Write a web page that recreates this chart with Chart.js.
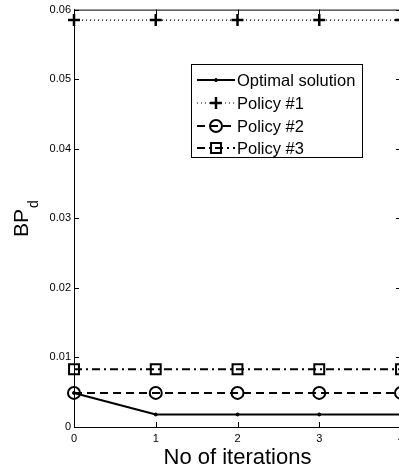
<!DOCTYPE html>
<html>
<head>
<meta charset="utf-8">
<script src="https://cdn.jsdelivr.net/npm/chart.js@4.4.1/dist/chart.umd.min.js"></script>
<style>
  html, body { margin: 0; padding: 0; background: #fff; overflow: hidden; }
  #wrap { width: 410px; height: 471px; }
</style>
</head>
<body>
<div id="wrap"><canvas id="canvas_bp"></canvas></div>
<script>
const iterations = [0, 1, 2, 3, 4];
const optimalSolution = [0.0049, 0.0018, 0.0018, 0.0018, 0.0018];
const policy1 = [0.0585, 0.0585, 0.0585, 0.0585, 0.0585];
const policy2 = [0.0049, 0.0049, 0.0049, 0.0049, 0.0049];
const policy3 = [0.0083, 0.0083, 0.0083, 0.0083, 0.0083];
const seriesLabels = ['Optimal solution', 'Policy #1', 'Policy #2', 'Policy #3'];

const FONT = '"Liberation Sans", Arial, Helvetica, sans-serif';

const toPoints = values => values.map((v, i) => ({ x: iterations[i], y: v }));

const styles = [
    { dash: [], width: 2, point: 'circle', radius: 1.5, pointWidth: 1, fill: '#000' },
    { dash: [1, 3], width: 1.2, point: 'cross', radius: 6, pointWidth: 2.5, fill: 'rgba(0,0,0,0)' },
    { dash: [8, 5], width: 2, point: 'circle', radius: 6, pointWidth: 2, fill: 'rgba(0,0,0,0)' },
    { dash: [8, 4, 2, 4], width: 1.8, point: 'rect', radius: 7, pointWidth: 2, fill: 'rgba(0,0,0,0)' }
];

const datasets = [optimalSolution, policy1, policy2, policy3].map((values, i) => ({
    label: seriesLabels[i],
    data: toPoints(values),
    borderColor: '#000',
    borderWidth: styles[i].width,
    borderDash: styles[i].dash,
    pointStyle: styles[i].point,
    pointRadius: styles[i].radius,
    pointBorderWidth: styles[i].pointWidth,
    pointBorderColor: '#000',
    pointBackgroundColor: styles[i].fill,
    tension: 0,
    fill: false,
    clip: false
}));

// box, inward ticks, axis titles and the boxed legend, MATLAB style
const matlabFrame = {
    id: 'matlabFrame',
    afterDraw(chart) {
        const ctx = chart.ctx;
        const a = chart.chartArea;
        const xs = chart.scales.x, ys = chart.scales.y;
        ctx.save();
        ctx.strokeStyle = '#000';
        ctx.lineWidth = 1;
        ctx.setLineDash([]);
        ctx.strokeRect(a.left + 0.5, a.top + 0.5, a.right - a.left, a.bottom - a.top);

        const tl = 5;
        ctx.beginPath();
        ys.ticks.forEach(t => {
            const y = Math.round(ys.getPixelForValue(t.value)) + 0.5;
            ctx.moveTo(a.left, y); ctx.lineTo(a.left + tl, y);
            ctx.moveTo(a.right, y); ctx.lineTo(a.right - tl, y);
        });
        xs.ticks.forEach(t => {
            const x = Math.round(xs.getPixelForValue(t.value)) + 0.5;
            ctx.moveTo(x, a.bottom); ctx.lineTo(x, a.bottom - tl);
            ctx.moveTo(x, a.top); ctx.lineTo(x, a.top + tl);
        });
        ctx.stroke();

        // axis titles
        ctx.fillStyle = '#000';
        ctx.font = '22px ' + FONT;
        ctx.textAlign = 'center';
        ctx.textBaseline = 'alphabetic';
        ctx.fillText('No of iterations', (a.left + a.right) / 2, 464);

        ctx.save();
        ctx.translate(27.5, 237);
        ctx.rotate(-Math.PI / 2);
        ctx.textAlign = 'left';
        ctx.font = '21px ' + FONT;
        ctx.fillText('BP', 0, 0);
        const w = ctx.measureText('BP').width;
        ctx.font = '14px ' + FONT;
        ctx.fillText('d', w + 1, 10);
        ctx.restore();

        // legend
        const lx = 191, ly = 64, lw = 171, lh = 93;
        ctx.fillStyle = '#fff';
        ctx.fillRect(lx, ly, lw, lh);
        ctx.strokeStyle = '#000';
        ctx.lineWidth = 1;
        ctx.strokeRect(lx + 0.5, ly + 0.5, lw, lh);
        const rows = [80, 103, 126, 148];
        chart.data.datasets.forEach((ds, i) => {
            const y = rows[i];
            const st = styles[i];
            ctx.setLineDash(st.dash);
            ctx.lineWidth = st.width;
            ctx.beginPath();
            ctx.moveTo(197, y); ctx.lineTo(235, y);
            ctx.stroke();
            ctx.setLineDash([]);
            ctx.lineWidth = st.pointWidth;
            const cx = 216;
            ctx.beginPath();
            if (st.point === 'cross') {
                ctx.moveTo(cx - st.radius, y); ctx.lineTo(cx + st.radius, y);
                ctx.moveTo(cx, y - st.radius); ctx.lineTo(cx, y + st.radius);
                ctx.stroke();
            } else if (st.point === 'rect') {
                const s = st.radius * Math.SQRT1_2;
                ctx.rect(cx - s, y - s, 2 * s, 2 * s);
                ctx.stroke();
            } else {
                ctx.arc(cx, y, st.radius, 0, Math.PI * 2);
                if (st.fill === '#000') { ctx.fillStyle = '#000'; ctx.fill(); }
                ctx.stroke();
            }
            ctx.fillStyle = '#000';
            ctx.font = '16.5px ' + FONT;
            ctx.textAlign = 'left';
            ctx.textBaseline = 'middle';
            ctx.fillText(ds.label, 237, y + 1);
        });
        ctx.restore();
    }
};

const ctx = document.getElementById('canvas_bp').getContext('2d');
const chart = new Chart(ctx, {
    type: 'line',
    data: { datasets: datasets },
    options: {
        responsive: true,
        maintainAspectRatio: false,
        animation: false,
        layout: { padding: { top: 8, right: 9, left: 0, bottom: 0 } },
        scales: {
            x: {
                type: 'linear',
                min: 0,
                max: 4,
                ticks: {
                    stepSize: 1,
                    padding: 5,
                    color: '#000',
                    font: { family: FONT, size: 11 },
                    maxRotation: 0
                },
                grid: { drawOnChartArea: false, drawTicks: false },
                border: { color: '#000' },
                afterFit: function(scale) { scale.height = 44; }
            },
            y: {
                min: 0,
                max: 0.06,
                ticks: {
                    stepSize: 0.01,
                    padding: 3,
                    color: '#000',
                    font: { family: FONT, size: 11 },
                    callback: function(value) {
                        return parseFloat(value.toFixed(2)).toString();
                    }
                },
                grid: { drawOnChartArea: false, drawTicks: false },
                border: { color: '#000' },
                afterFit: function(scale) { scale.width = 74; }
            }
        },
        plugins: {
            legend: { display: false },
            tooltip: { enabled: false }
        }
    },
    plugins: [matlabFrame]
});
</script>
</body>
</html>
